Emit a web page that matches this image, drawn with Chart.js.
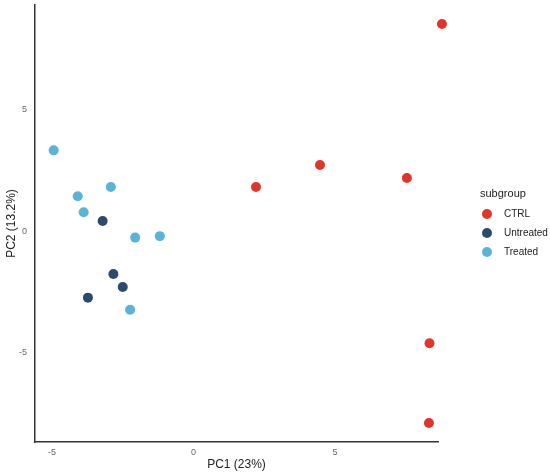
<!DOCTYPE html>
<html>
<head>
<meta charset="utf-8">
<script src="https://cdn.jsdelivr.net/npm/chart.js@4/dist/chart.umd.min.js"></script>
<style>
  body { margin: 0; background: #fff; font-family: "Liberation Sans", Arial, sans-serif; }
  #wrap { position: relative; width: 550px; height: 476px; }
  #legend { position: absolute; left: 480px; top: 187px; color: #222; }
  #legend .title { font-size: 11px; margin-bottom: 5px; }
  #legend .item { font-size: 10px; height: 19px; line-height: 19px; position: relative; padding-left: 24px; }
  #legend .dot { position: absolute; left: 2px; top: 5px; width: 10px; height: 10px; border-radius: 50%; }
</style>
</head>
<body>
<div id="wrap">
  <canvas id="pcaChart" width="550" height="476"></canvas>
  <div id="legend"></div>
</div>
<script>
// groups and colours
const subgroups = ["CTRL", "Untreated", "Treated"];
const colores = ["#E2352A", "#2C4A6E", "#5AB4DA"];

// PC scores
const ctrlPC1 = [8.78, 4.47, 2.21, 7.54, 8.34, 8.32];
const ctrlPC2 = [8.52, 2.72, 1.81, 2.18, -4.62, -7.90];
const untreatedPC1 = [-3.21, -2.83, -2.50, -3.73];
const untreatedPC2 = [0.41, -1.77, -2.30, -2.74];
const treatedPC1 = [-4.94, -4.09, -3.88, -2.92, -2.06, -1.19, -2.24];
const treatedPC2 = [3.32, 1.43, 0.77, 1.81, -0.27, -0.21, -3.24];

const xTicks = [-5, 0, 5];
const yTicks = [-5, 0, 5];

const toPoints = (xs, ys) => xs.map((x, i) => ({ x: x, y: ys[i] }));
const series = [
  toPoints(ctrlPC1, ctrlPC2),
  toPoints(untreatedPC1, untreatedPC2),
  toPoints(treatedPC1, treatedPC2),
];

const tickFont = { family: "Liberation Sans", size: 9 };
const titleFont = { family: "Liberation Sans", size: 12 };

var ctx = document.getElementById("pcaChart").getContext("2d");
var pcaChart = new Chart(ctx, {
  type: "scatter",
  data: {
    datasets: subgroups.map((name, i) => ({
      label: name,
      data: series[i],
      backgroundColor: colores[i],
      borderColor: colores[i],
      borderWidth: 0,
      pointRadius: 5,
      pointHoverRadius: 5,
      clip: false,
    })),
  },
  options: {
    responsive: false,
    animation: false,
    layout: { padding: { top: 5, right: 112, left: 0, bottom: 0 } },
    plugins: {
      legend: { display: false },
      tooltip: { enabled: false },
    },
    scales: {
      x: {
        type: "linear",
        min: -5.6,
        max: 8.64,
        grid: { display: false, drawTicks: false },
        border: { display: true, color: "#333", width: 1.5 },
        afterBuildTicks: (axis) => { axis.ticks = xTicks.map((v) => ({ value: v })); },
        afterFit: (axis) => {
          axis.height = 34;
          axis.paddingLeft = 0;
          axis.paddingRight = 0;
        },
        ticks: { font: tickFont, color: "#666", padding: 5, maxRotation: 0 },
        title: { display: true, text: "PC1 (23%)", font: titleFont, color: "#222", padding: { top: 2, bottom: 4 } },
      },
      y: {
        type: "linear",
        min: -8.68,
        max: 9.3,
        grid: { display: false, drawTicks: false },
        border: { display: true, color: "#333", width: 1.5 },
        afterBuildTicks: (axis) => { axis.ticks = yTicks.map((v) => ({ value: v })); },
        afterFit: (axis) => {
          axis.width = 35;
          axis.paddingTop = 0;
          axis.paddingBottom = 0;
        },
        ticks: { font: tickFont, color: "#666", padding: 8 },
        title: { display: true, text: "PC2 (13.2%)", font: titleFont, color: "#222", padding: { top: 4, bottom: 2 } },
      },
    },
  },
});

// legend
var legend = document.getElementById("legend");
legend.innerHTML = '<div class="title">subgroup</div>';
subgroups.forEach((name, i) => {
  legend.innerHTML += `<div class="item"><span class="dot" style="background:${colores[i]}"></span>${name}</div>`;
});
</script>
</body>
</html>
